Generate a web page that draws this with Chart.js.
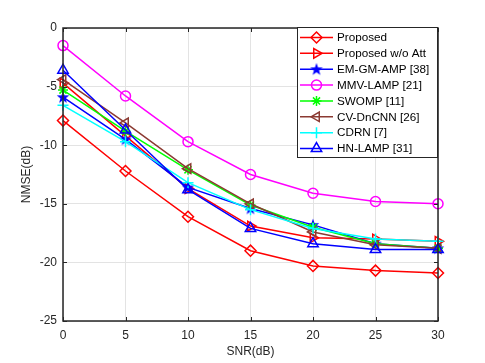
<!DOCTYPE html>
<html>
<head>
<meta charset="utf-8">
<script src="https://cdn.jsdelivr.net/npm/chart.js@4.4.0/dist/chart.umd.min.js"></script>
<style>
  html, body { margin: 0; padding: 0; background: #fff; }
  #wrap { width: 485px; height: 363px; }
</style>
</head>
<body>
<div id="wrap"><canvas id="chart" width="485" height="363"></canvas></div>
<script>
// data
const snr = [0, 5, 10, 15, 20, 25, 30];
const proposed    = [-7.9, -12.2, -16.1, -19.0, -20.3, -20.7, -20.9];
const proposedNoAtt = [-4.7, -9.2, -13.7, -16.9, -17.9, -18.0, -18.2];
const emGmAmp     = [-5.9, -9.5, -13.6, -15.4, -16.8, -18.4, -18.8];
const mmvLamp     = [-1.5, -5.8, -9.7, -12.5, -14.1, -14.8, -15.0];
const swomp       = [-5.3, -8.8, -12.1, -15.1, -17.0, -18.4, -18.8];
const cvDnCnn     = [-4.4, -8.1, -12.0, -15.0, -17.4, -18.5, -18.8];
const cdrn        = [-6.6, -9.7, -13.2, -15.5, -17.1, -18.0, -18.2];
const hnLamp      = [-3.6, -8.7, -13.8, -17.1, -18.4, -18.9, -18.9];

const names = ['Proposed', 'Proposed w/o Att', 'EM-GM-AMP [38]', 'MMV-LAMP [21]',
               'SWOMP [11]', 'CV-DnCNN [26]', 'CDRN [7]', 'HN-LAMP [31]'];
const series = [proposed, proposedNoAtt, emGmAmp, mmvLamp, swomp, cvDnCnn, cdrn, hnLamp];
const yTicks = [0, -5, -10, -15, -20, -25];
const xTicks = [0, 5, 10, 15, 20, 25, 30];

const FONT = 'Liberation Sans, Arial, Helvetica, sans-serif';
const TXT = '#262626';

function pentagram(color) {
    let c = document.createElement('canvas');
    c.width = 14; c.height = 14;
    let g = c.getContext('2d');
    g.beginPath();
    for (let i = 0; i < 10; i++) {
        let r = i % 2 ? 2.7 : 6.6;
        let a = -Math.PI / 2 + i * Math.PI / 5;
        let px = 7 + r * Math.cos(a), py = 7.4 + r * Math.sin(a);
        i ? g.lineTo(px, py) : g.moveTo(px, py);
    }
    g.closePath();
    g.fillStyle = color;
    g.fill();
    return c;
}

const styles = [
    { color: '#ff0000', point: 'rectRot', rot: 0, r: 5.5 },
    { color: '#ff0000', point: 'triangle', rot: 90, r: 5.5 },
    { color: '#0000ff', point: pentagram('#0000ff'), rot: 0, r: 6 },
    { color: '#ff00ff', point: 'circle', rot: 0, r: 5 },
    { color: '#00ff00', point: 'star', rot: 0, r: 5 },
    { color: '#8b3a32', point: 'triangle', rot: -90, r: 5.5 },
    { color: '#00ffff', point: 'cross', rot: 0, r: 5.5 },
    { color: '#0000ff', point: 'triangle', rot: 0, r: 6 },
];

const datasets = series.map((vals, i) => ({
    label: names[i],
    data: vals.map((v, k) => ({ x: snr[k], y: v })),
    borderColor: styles[i].color,
    backgroundColor: 'rgba(0,0,0,0)',
    borderWidth: 1.5,
    pointStyle: styles[i].point,
    pointRotation: styles[i].rot,
    pointRadius: styles[i].r,
    pointBorderColor: styles[i].color,
    pointBorderWidth: 1.5,
    pointBackgroundColor: 'rgba(0,0,0,0)',
    showLine: true,
    tension: 0,
    clip: false,
    order: series.length - i,
}));

function drawMarker(ctx, st, x, y) {
    let opts = { pointStyle: st.point, radius: st.r, rotation: st.rot, borderWidth: 1.5 };
    ctx.save();
    ctx.strokeStyle = st.color;
    ctx.fillStyle = 'rgba(0,0,0,0)';
    ctx.lineWidth = 1.5;
    if (Chart.helpers && Chart.helpers.drawPoint) {
        Chart.helpers.drawPoint(ctx, opts, x, y);
    }
    ctx.restore();
}

const framePlugin = {
    id: 'frame',
    afterDraw(chart) {
        let ctx = chart.ctx;
        let a = chart.chartArea;
        let xs = chart.scales.x, ys = chart.scales.y;
        ctx.save();
        ctx.strokeStyle = TXT;
        ctx.lineWidth = 1.5;
        ctx.strokeRect(a.left, a.top, a.right - a.left, a.bottom - a.top);
        ctx.lineWidth = 1;
        ctx.beginPath();
        xTicks.forEach(t => {
            let px = Math.round(xs.getPixelForValue(t)) + 0.5;
            ctx.moveTo(px, a.bottom); ctx.lineTo(px, a.bottom - 4);
            ctx.moveTo(px, a.top); ctx.lineTo(px, a.top + 4);
        });
        yTicks.forEach(t => {
            let py = Math.round(ys.getPixelForValue(t)) + 0.5;
            ctx.moveTo(a.left, py); ctx.lineTo(a.left + 4, py);
            ctx.moveTo(a.right, py); ctx.lineTo(a.right - 4, py);
        });
        ctx.stroke();

        // legend box, top right inside the axes
        let bx = 297, by = 27, bw = 140, bh = 130;
        ctx.fillStyle = '#ffffff';
        ctx.fillRect(bx, by, bw, bh);
        ctx.strokeStyle = TXT;
        ctx.lineWidth = 1;
        ctx.strokeRect(bx + 0.5, by + 0.5, bw, bh);
        ctx.font = '11.7px ' + FONT;
        ctx.textBaseline = 'middle';
        ctx.textAlign = 'left';
        names.forEach((n, i) => {
            let ry = 37.5 + i * 15.86;
            let st = styles[i];
            ctx.strokeStyle = st.color;
            ctx.lineWidth = 1.5;
            ctx.beginPath();
            ctx.moveTo(300, ry); ctx.lineTo(333, ry);
            ctx.stroke();
            drawMarker(ctx, st, 316.5, ry);
            ctx.fillStyle = '#000';
            ctx.fillText(n, 337, ry + 0.5);
        });
        ctx.restore();
    }
};

new Chart(document.getElementById('chart'), {
    type: 'scatter',
    data: { datasets: datasets },
    options: {
        responsive: false,
        animation: false,
        devicePixelRatio: 1,
        layout: { padding: { left: 0, top: 28, right: 47, bottom: 0 } },
        scales: {
            x: {
                type: 'linear',
                min: 0, max: 30,
                afterBuildTicks: (s) => { s.ticks = xTicks.map(v => ({ value: v })); },
                afterFit: (s) => { s.height = 42; },
                grid: { color: '#e3e3e3', lineWidth: 1, drawTicks: false },
                border: { display: false },
                ticks: { color: TXT, font: { family: FONT, size: 12 }, padding: 7, maxRotation: 0 },
                title: { display: true, text: 'SNR(dB)', color: TXT,
                         font: { family: FONT, size: 12 }, padding: { top: 0, bottom: 4 } },
            },
            y: {
                type: 'linear',
                min: -25, max: 0,
                afterBuildTicks: (s) => { s.ticks = yTicks.map(v => ({ value: v })); },
                afterFit: (s) => { s.width = 63; },
                grid: { color: '#e3e3e3', lineWidth: 1, drawTicks: false },
                border: { display: false },
                ticks: { color: TXT, font: { family: FONT, size: 12 }, padding: 6 },
                title: { display: true, text: 'NMSE(dB)', color: TXT,
                         font: { family: FONT, size: 12 }, padding: { top: 19, bottom: 0 } },
            },
        },
        plugins: {
            legend: { display: false },
            tooltip: { enabled: false },
        },
    },
    plugins: [framePlugin],
});
</script>
</body>
</html>
